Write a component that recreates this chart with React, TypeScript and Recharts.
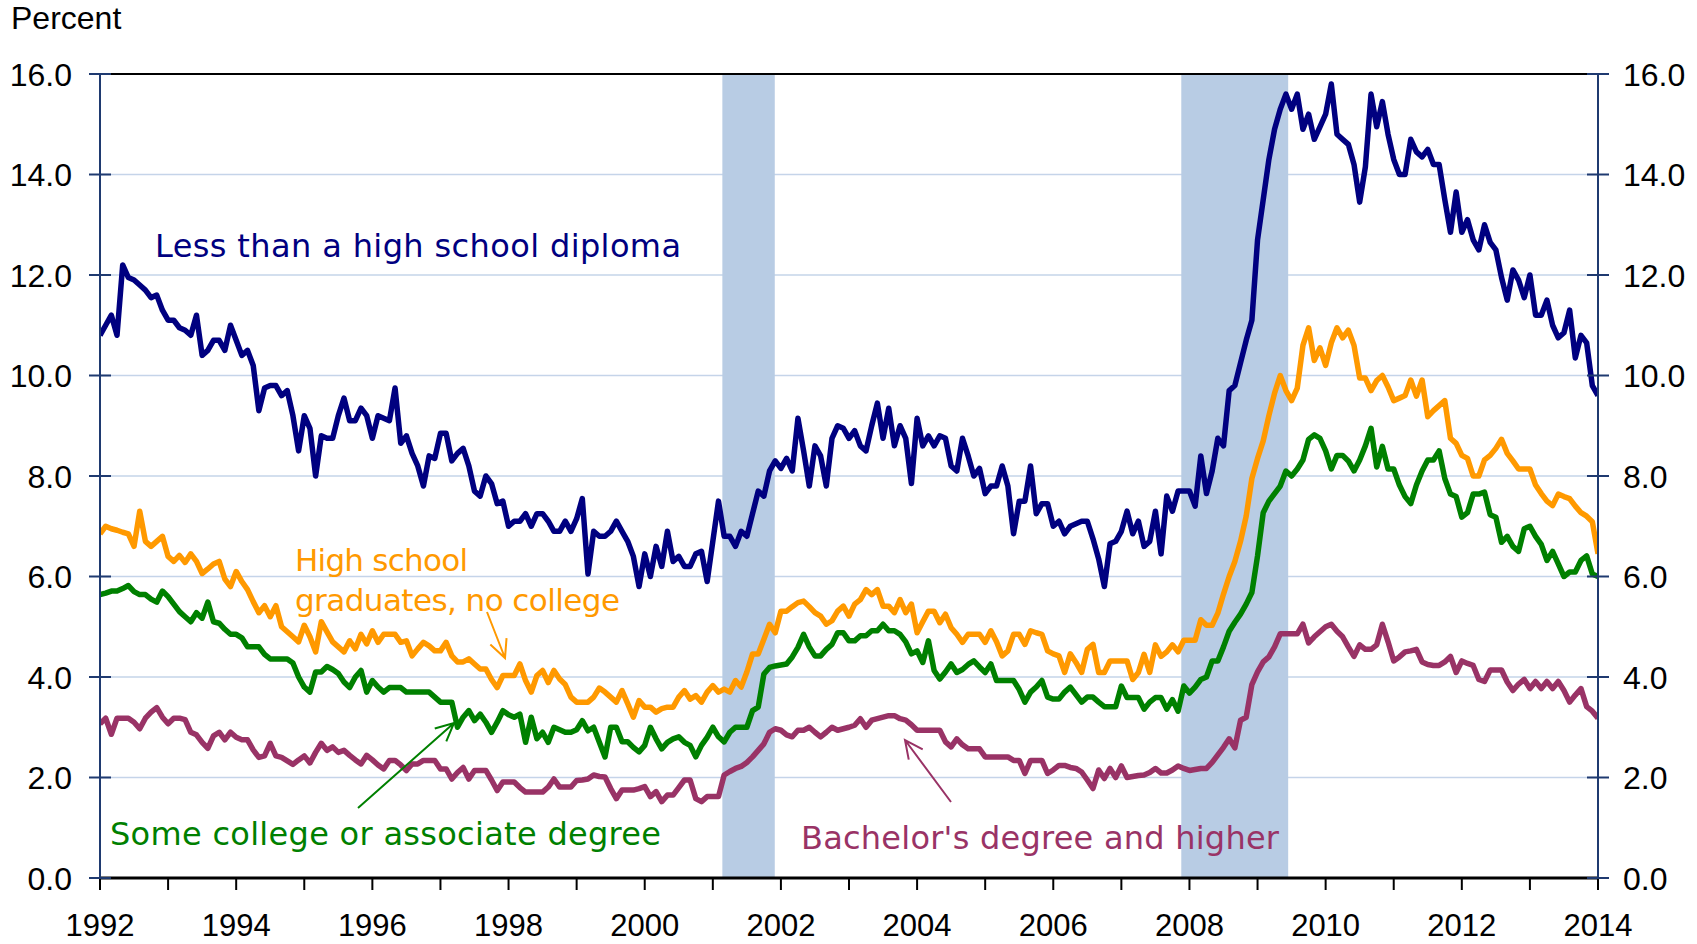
import { LineChart, Line, XAxis, YAxis, CartesianGrid, ReferenceArea, ReferenceLine } from "recharts"

// monthly, Jan 1992 .. Jan 2014
const startYear = 1992

const lessThanHS = [
  10.8, 11.0, 11.2, 10.8, 12.2, 11.95, 11.9, 11.8, 11.7, 11.55, 11.6, 11.3,
  11.1, 11.1, 10.95, 10.9, 10.8, 11.2, 10.4, 10.5, 10.7, 10.7, 10.5, 11.0,
  10.7, 10.4, 10.5, 10.2, 9.3, 9.75, 9.8, 9.8, 9.6, 9.7, 9.2, 8.5,
  9.2, 8.95, 8.0, 8.8, 8.75, 8.75, 9.2, 9.55, 9.1, 9.1, 9.35, 9.2,
  8.75, 9.2, 9.15, 9.1, 9.75, 8.65, 8.8, 8.45, 8.2, 7.8, 8.4, 8.35,
  8.85, 8.85, 8.3, 8.45, 8.55, 8.2, 7.7, 7.6, 8.0, 7.85, 7.45, 7.5,
  7.0, 7.1, 7.1, 7.25, 7.0, 7.25, 7.25, 7.1, 6.9, 6.9, 7.1, 6.9,
  7.15, 7.55, 6.05, 6.9, 6.8, 6.8, 6.9, 7.1, 6.9, 6.7, 6.4, 5.8,
  6.45, 6.0, 6.6, 6.2, 6.9, 6.3, 6.4, 6.2, 6.2, 6.45, 6.5, 5.9,
  6.7, 7.5, 6.8, 6.8, 6.6, 6.9, 6.8, 7.25, 7.7, 7.6, 8.1, 8.3,
  8.15, 8.35, 8.1, 9.15, 8.5, 7.8, 8.6, 8.4, 7.8, 8.75, 9.0, 8.95,
  8.75, 8.9, 8.6, 8.5, 9.0, 9.45, 8.75, 9.35, 8.6, 9.0, 8.75, 7.85,
  9.15, 8.6, 8.8, 8.6, 8.8, 8.75, 8.2, 8.1, 8.75, 8.4, 8.0, 8.15,
  7.65, 7.8, 7.8, 8.2, 7.8, 6.85, 7.5, 7.5, 8.2, 7.25, 7.45, 7.45,
  7.0, 7.1, 6.85, 7.0, 7.05, 7.1, 7.1, 6.75, 6.35, 5.8, 6.65, 6.7,
  6.9, 7.3, 6.85, 7.1, 6.6, 6.7, 7.3, 6.45, 7.6, 7.3, 7.7, 7.7,
  7.7, 7.4, 8.4, 7.65, 8.1, 8.75, 8.6, 9.7, 9.8, 10.25, 10.7, 11.1,
  12.7, 13.5, 14.3, 14.9, 15.3, 15.6, 15.3, 15.6, 14.9, 15.2, 14.7, 14.95,
  15.2, 15.8, 14.8, 14.7, 14.6, 14.2, 13.45, 14.15, 15.6, 14.95, 15.45, 14.8,
  14.3, 14.0, 14.0, 14.7, 14.45, 14.35, 14.5, 14.2, 14.2, 13.5, 12.85, 13.65,
  12.85, 13.1, 12.7, 12.5, 13.0, 12.65, 12.5, 11.95, 11.5, 12.1, 11.9, 11.55,
  12.0, 11.2, 11.2, 11.5, 11.0, 10.75, 10.85, 11.3, 10.35, 10.8, 10.65, 9.8,
  9.6,
]

const highSchool = [
  6.85, 7.0, 6.95, 6.92, 6.88, 6.85, 6.6, 7.3, 6.7, 6.6, 6.7, 6.8,
  6.4, 6.3, 6.42, 6.28, 6.45, 6.3, 6.06, 6.15, 6.25, 6.3, 5.95, 5.8,
  6.1, 5.9, 5.74, 5.5, 5.28, 5.42, 5.2, 5.42, 5.0, 4.9, 4.8, 4.7,
  5.03, 4.8, 4.5, 5.1, 4.9, 4.7, 4.6, 4.5, 4.72, 4.56, 4.85, 4.66,
  4.92, 4.69, 4.85, 4.85, 4.85, 4.69, 4.72, 4.42, 4.56, 4.69, 4.62, 4.52,
  4.52, 4.69, 4.42, 4.3, 4.3, 4.36, 4.26, 4.16, 4.16, 3.95, 3.79, 4.03,
  4.03, 4.03, 4.26, 3.93, 3.7, 4.03, 4.13, 3.89, 4.13, 3.96, 3.85, 3.6,
  3.5, 3.5, 3.5, 3.6, 3.78, 3.7, 3.6, 3.5, 3.73, 3.47, 3.2, 3.53,
  3.4, 3.4, 3.3, 3.37, 3.4, 3.4, 3.6, 3.73, 3.56, 3.63, 3.5, 3.7,
  3.83, 3.7, 3.76, 3.7, 3.93, 3.8, 4.1, 4.46, 4.46, 4.75, 5.05, 4.88,
  5.31, 5.31, 5.4, 5.48, 5.51, 5.4, 5.28, 5.21, 5.05, 5.12, 5.31, 5.41,
  5.21, 5.45, 5.54, 5.74, 5.64, 5.74, 5.41, 5.41, 5.28, 5.54, 5.28, 5.45,
  4.88, 5.1, 5.31, 5.31, 5.08, 5.25, 4.98, 4.85, 4.69, 4.85, 4.85, 4.85,
  4.69, 4.92, 4.7, 4.42, 4.52, 4.85, 4.85, 4.65, 4.92, 4.88, 4.85, 4.52,
  4.46, 4.42, 4.09, 4.46, 4.29, 4.09, 4.55, 4.65, 4.09, 4.09, 4.32, 4.32,
  4.32, 4.32, 3.95, 4.09, 4.45, 4.09, 4.64, 4.41, 4.5, 4.64, 4.5, 4.73,
  4.73, 4.73, 5.14, 5.03, 5.03, 5.27, 5.65, 6.0, 6.3, 6.7, 7.2, 7.95,
  8.35, 8.7, 9.2, 9.65, 10.0, 9.7, 9.5, 9.75, 10.6, 10.95, 10.3, 10.55,
  10.2, 10.65, 10.95, 10.75, 10.9, 10.6, 9.95, 9.95, 9.7, 9.9, 10.0, 9.77,
  9.5, 9.55, 9.6, 9.91, 9.59, 9.91, 9.18, 9.3, 9.4, 9.5, 8.75, 8.65,
  8.41, 8.35, 8.0, 8.0, 8.32, 8.41, 8.55, 8.73, 8.45, 8.3, 8.14, 8.14,
  8.14, 7.82, 7.65, 7.5, 7.41, 7.64, 7.59, 7.55, 7.4, 7.27, 7.2, 7.09,
  6.45,
]

const someCollege = [
  5.64, 5.67, 5.71, 5.71, 5.76, 5.82, 5.7, 5.64, 5.64, 5.55, 5.49, 5.71,
  5.6, 5.45, 5.3, 5.2, 5.1, 5.28, 5.17, 5.49, 5.1, 5.07, 4.95, 4.85,
  4.85, 4.78, 4.6, 4.6, 4.6, 4.45, 4.36, 4.36, 4.36, 4.36, 4.28, 4.0,
  3.8, 3.7, 4.1, 4.1, 4.21, 4.15, 4.07, 3.9, 3.79, 4.0, 4.13, 3.7,
  3.93, 3.8, 3.7, 3.79, 3.79, 3.79, 3.7, 3.7, 3.7, 3.7, 3.7, 3.6,
  3.5, 3.5, 3.5, 3.0, 3.2, 3.33, 3.13, 3.26, 3.1, 2.9, 3.1, 3.33,
  3.25, 3.2, 3.26, 2.7, 3.2, 2.77, 2.9, 2.7, 3.0, 2.95, 2.9, 2.9,
  2.95, 3.13, 2.93, 3.0, 2.7, 2.41, 3.0, 3.0, 2.71, 2.71, 2.6, 2.51,
  2.64, 3.0, 2.77, 2.57, 2.7, 2.77, 2.81, 2.7, 2.64, 2.41, 2.64, 2.8,
  3.0, 2.81, 2.71, 2.9, 3.0, 3.0, 3.0, 3.33, 3.4, 4.06, 4.19, 4.22,
  4.24, 4.26, 4.4, 4.59, 4.85, 4.6, 4.42, 4.42, 4.55, 4.65, 4.88, 4.88,
  4.72, 4.72, 4.82, 4.82, 4.92, 4.92, 5.05, 4.92, 4.92, 4.85, 4.7, 4.46,
  4.52, 4.29, 4.72, 4.13, 3.96, 4.1, 4.26, 4.09, 4.15, 4.25, 4.32, 4.2,
  4.09, 4.26, 3.93, 3.93, 3.93, 3.93, 3.75, 3.5, 3.7, 3.8, 3.93, 3.6,
  3.56, 3.56, 3.7, 3.8, 3.65, 3.5, 3.6, 3.6, 3.5, 3.41, 3.41, 3.41,
  3.82, 3.59, 3.59, 3.59, 3.36, 3.5, 3.59, 3.59, 3.36, 3.55, 3.32, 3.82,
  3.68, 3.8, 3.95, 4.0, 4.32, 4.32, 4.6, 4.91, 5.09, 5.25, 5.45, 5.68,
  6.41, 7.27, 7.5, 7.65, 7.8, 8.1, 8.0, 8.14, 8.32, 8.73, 8.82, 8.75,
  8.5, 8.14, 8.41, 8.41, 8.3, 8.1, 8.32, 8.6, 8.95, 8.18, 8.59, 8.14,
  8.14, 7.82, 7.59, 7.45, 7.82, 8.1, 8.32, 8.32, 8.5, 7.95, 7.64, 7.59,
  7.18, 7.27, 7.64, 7.64, 7.68, 7.23, 7.18, 6.68, 6.8, 6.6, 6.5, 6.95,
  7.0, 6.8, 6.64, 6.32, 6.5, 6.25, 6.0, 6.09, 6.09, 6.32, 6.41, 6.05,
  6.0,
]

const bachelors = [
  3.07, 3.18, 2.86, 3.18, 3.18, 3.18, 3.1, 2.97, 3.18, 3.3, 3.39, 3.2,
  3.07, 3.18, 3.18, 3.15, 2.9, 2.85, 2.7, 2.58, 2.83, 2.9, 2.75, 2.9,
  2.8, 2.75, 2.75, 2.55, 2.4, 2.43, 2.68, 2.43, 2.4, 2.33, 2.26, 2.35,
  2.43, 2.29, 2.5, 2.68, 2.54, 2.61, 2.5, 2.54, 2.44, 2.35, 2.27, 2.44,
  2.35, 2.25, 2.17, 2.34, 2.34, 2.25, 2.14, 2.27, 2.27, 2.34, 2.34, 2.34,
  2.17, 2.17, 1.97, 2.1, 2.2, 1.97, 2.14, 2.14, 2.14, 1.95, 1.74, 1.91,
  1.91, 1.91, 1.8, 1.71, 1.71, 1.71, 1.71, 1.81, 1.97, 1.81, 1.81, 1.81,
  1.94, 1.95, 1.97, 2.05, 2.02, 2.01, 1.78, 1.58, 1.75, 1.75, 1.75, 1.78,
  1.82, 1.62, 1.72, 1.52, 1.65, 1.65, 1.8, 1.95, 1.95, 1.58, 1.52, 1.62,
  1.62, 1.62, 2.05, 2.12, 2.18, 2.22, 2.3, 2.41, 2.54, 2.67, 2.9, 2.97,
  2.94, 2.85, 2.81, 2.94, 2.94, 3.0, 2.9, 2.81, 2.9, 3.0, 2.94, 2.97,
  3.0, 3.04, 3.17, 3.0, 3.14, 3.17, 3.2, 3.23, 3.23, 3.17, 3.14, 3.05,
  2.94, 2.94, 2.94, 2.94, 2.94, 2.71, 2.61, 2.77, 2.65, 2.57, 2.57, 2.57,
  2.41, 2.41, 2.41, 2.41, 2.41, 2.34, 2.34, 2.08, 2.34, 2.34, 2.34, 2.08,
  2.15, 2.24, 2.24, 2.2, 2.18, 2.11, 1.95, 1.78, 2.15, 1.98, 2.18, 2.0,
  2.23, 2.0, 2.02, 2.04, 2.05, 2.1, 2.18, 2.09, 2.09, 2.15, 2.23, 2.18,
  2.14, 2.16, 2.18, 2.18, 2.3, 2.45, 2.6, 2.77, 2.59, 3.14, 3.2, 3.85,
  4.1, 4.3, 4.4, 4.6, 4.86, 4.86, 4.86, 4.86, 5.05, 4.68, 4.8, 4.9,
  5.0, 5.05, 4.91, 4.8, 4.6, 4.41, 4.64, 4.55, 4.55, 4.64, 5.05, 4.7,
  4.32, 4.4, 4.5, 4.52, 4.55, 4.3, 4.25, 4.23, 4.23, 4.3, 4.41, 4.09,
  4.32, 4.27, 4.23, 3.95, 3.91, 4.14, 4.14, 4.14, 3.9, 3.73, 3.86, 3.95,
  3.77, 3.91, 3.77, 3.91, 3.77, 3.91, 3.73, 3.5, 3.64, 3.77, 3.41, 3.32,
  3.18,
]

const yearTicks = [1992, 1993, 1994, 1995, 1996, 1997, 1998, 1999, 2000, 2001, 2002, 2003,
  2004, 2005, 2006, 2007, 2008, 2009, 2010, 2011, 2012, 2013, 2014]
const percentTicks = [0, 2, 4, 6, 8, 10, 12, 14, 16]

// recession periods (decimal years)
const recessions = [
  [2001.14, 2001.91],
  [2007.88, 2009.45],
]

const data = lessThanHS.map((v, i) => ({
  t: startYear + i / 12,
  lessHS: v,
  hs: highSchool[i],
  some: someCollege[i],
  ba: bachelors[i],
}))

const axisBlue = "#1F3A70"
const tickFont = "'Liberation Sans', Arial, sans-serif"
const labelFont = "'DejaVu Sans', Verdana, sans-serif"
const lineW = 5.5

const LeftTick = ({ x, y, payload }: any) => (
  <g>
    <line x1={x - 11} x2={x + 11} y1={y} y2={y} stroke={axisBlue} strokeWidth={2} />
    <text x={x - 28} y={y + 11.5} textAnchor="end" fontSize={32} fontFamily={tickFont} fill="#000">
      {Number(payload.value).toFixed(1)}
    </text>
  </g>
)

const RightTick = ({ x, y, payload }: any) => (
  <g>
    <line x1={x - 11} x2={x + 11} y1={y} y2={y} stroke={axisBlue} strokeWidth={2} />
    <text x={x + 25} y={y + 11.5} textAnchor="start" fontSize={32} fontFamily={tickFont} fill="#000">
      {Number(payload.value).toFixed(1)}
    </text>
  </g>
)

const YearTick = ({ x, y, payload }: any) => {
  if (payload.value % 2 !== 0) return <g />
  return (
    <text x={x} y={y + 46} textAnchor="middle" fontSize={31} fontFamily={tickFont} fill="#000">
      {payload.value}
    </text>
  )
}

function Arrow({ from, to, color }: { from: number[]; to: number[]; color: string }) {
  const [x1, y1] = from
  const [x2, y2] = to
  const a = Math.atan2(y2 - y1, x2 - x1)
  const len = 20
  const spread = 0.45
  const ax = x2 - len * Math.cos(a - spread)
  const ay = y2 - len * Math.sin(a - spread)
  const bx = x2 - len * Math.cos(a + spread)
  const by = y2 - len * Math.sin(a + spread)
  return (
    <path
      d={`M${x1},${y1}L${x2},${y2}M${ax},${ay}L${x2},${y2}L${bx},${by}`}
      stroke={color}
      strokeWidth={2}
      fill="none"
    />
  )
}

export default function App() {
  return (
    <div style={{ position: "absolute", left: 0, top: 0, width: 1697, height: 944, background: "#fff" }}>
      <LineChart width={1697} height={944} data={data} margin={{ top: 74, right: 0, bottom: 0, left: 0 }}>
        <CartesianGrid yAxisId="left" vertical={false} stroke="#C5D4E9" strokeWidth={1.5} />
        {recessions.map(([a, b], i) => (
          <ReferenceArea key={i} yAxisId="left" x1={a} x2={b} y1={0} y2={16} fill="#B8CCE4" fillOpacity={1} stroke="none" />
        ))}
        <ReferenceLine yAxisId="left" y={16} stroke="#000" strokeWidth={2} />
        <Line yAxisId="left" type="linear" dataKey="ba" stroke="#993366" strokeWidth={lineW} dot={false} strokeLinejoin="round" isAnimationActive={false} />
        <Line yAxisId="left" type="linear" dataKey="some" stroke="#008000" strokeWidth={lineW} dot={false} strokeLinejoin="round" isAnimationActive={false} />
        <Line yAxisId="left" type="linear" dataKey="hs" stroke="#FF9900" strokeWidth={lineW} dot={false} strokeLinejoin="round" isAnimationActive={false} />
        <Line yAxisId="left" type="linear" dataKey="lessHS" stroke="#000080" strokeWidth={lineW} dot={false} strokeLinejoin="round" isAnimationActive={false} />
        <XAxis
          dataKey="t"
          type="number"
          domain={[1992, 2014]}
          ticks={yearTicks}
          interval={0}
          height={66}
          tickSize={12}
          tickMargin={0}
          axisLine={{ stroke: "#000", strokeWidth: 3 }}
          tickLine={{ stroke: "#000", strokeWidth: 2 }}
          tick={(p: any) => <YearTick {...p} />}
          allowDataOverflow
        />
        <YAxis
          yAxisId="left"
          domain={[0, 16]}
          ticks={percentTicks}
          interval={0}
          width={100}
          tickSize={0}
          tickMargin={0}
          tickLine={false}
          axisLine={{ stroke: axisBlue, strokeWidth: 2 }}
          tick={(p: any) => <LeftTick {...p} />}
          allowDataOverflow
        />
        <YAxis
          yAxisId="right"
          orientation="right"
          domain={[0, 16]}
          ticks={percentTicks}
          interval={0}
          width={99}
          tickSize={0}
          tickMargin={0}
          tickLine={false}
          axisLine={{ stroke: axisBlue, strokeWidth: 2 }}
          tick={(p: any) => <RightTick {...p} />}
          allowDataOverflow
        />
      </LineChart>
      <svg width={1697} height={944} style={{ position: "absolute", left: 0, top: 0, pointerEvents: "none" }}>
        <text x={11} y={29} fontSize={32} fontFamily={tickFont} fill="#000">Percent</text>
        <text x={155} y={257} fontSize={32} fontFamily={labelFont} fill="#000080" textLength={526}>
          Less than a high school diploma
        </text>
        <text x={295} y={571} fontSize={31} fontFamily={labelFont} fill="#FF9900" textLength={173}>
          High school
        </text>
        <text x={295} y={611} fontSize={31} fontFamily={labelFont} fill="#FF9900" textLength={325}>
          graduates, no college
        </text>
        <text x={110} y={845} fontSize={32} fontFamily={labelFont} fill="#008000" textLength={551}>
          Some college or associate degree
        </text>
        <text x={801} y={849} fontSize={32} fontFamily={labelFont} fill="#993366" textLength={478}>
          Bachelor's degree and higher
        </text>
        <Arrow from={[487, 612]} to={[505, 658]} color="#FF9900" />
        <Arrow from={[358, 808]} to={[454, 723]} color="#008000" />
        <Arrow from={[951, 802]} to={[905, 740]} color="#993366" />
      </svg>
    </div>
  )
}
